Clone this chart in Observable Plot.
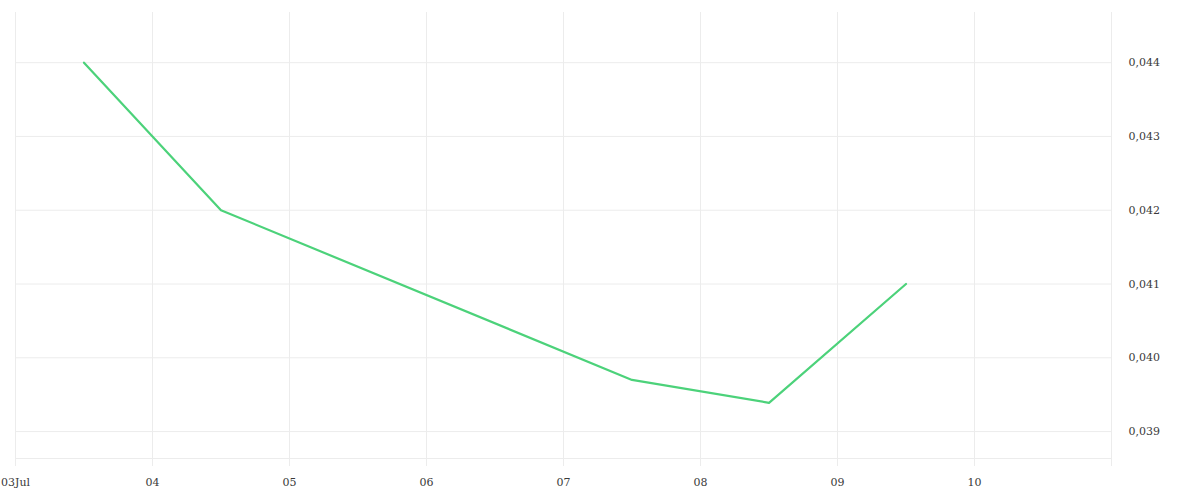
<!DOCTYPE html>
<html>
<head>
<meta charset="utf-8">
<script src="https://cdn.jsdelivr.net/npm/d3@7"></script>
<script src="https://cdn.jsdelivr.net/npm/@observablehq/plot@0.6"></script>
<style>
  html, body { margin: 0; padding: 0; background: #fff; }
  #chart svg { display: block; }
</style>
</head>
<body>
<div id="chart"></div>
<script>
const dates = ["2025-07-03T12:00:00Z", "2025-07-04T12:00:00Z", "2025-07-07T12:00:00Z", "2025-07-08T12:00:00Z", "2025-07-09T12:00:00Z"];
const values = [0.0440, 0.0420, 0.0397, 0.03939, 0.0410];
const xTicks = ["2025-07-03", "2025-07-04", "2025-07-05", "2025-07-06", "2025-07-07", "2025-07-08", "2025-07-09", "2025-07-10", "2025-07-11"];
const yTicks = [0.039, 0.040, 0.041, 0.042, 0.043, 0.044];
const xDomain = ["2025-07-03", "2025-07-11"];
const yDomain = [0.038635, 0.04468];

const data = dates.map((d, i) => ({date: new Date(d), value: values[i]}));
const xt = xTicks.map(d => new Date(d + "T00:00:00Z"));
const fmtY = v => d3.format(".3f")(v).replace(".", ",");
const fmtX = (d, i) => {
  const day = d3.utcFormat("%d")(d);
  if (i === 0) return day + "Jul";
  if (i === xt.length - 1) return "";
  return day;
};

const grid = "#ececec";
const chart = Plot.plot({
  width: 1200,
  height: 500,
  marginLeft: 15,
  marginRight: 89,
  marginTop: 12,
  marginBottom: 42,
  style: {fontFamily: "'DejaVu Serif', serif", fontSize: "11px", color: "#3a3a3a", background: "#fff"},
  x: {type: "utc", domain: xDomain.map(d => new Date(d + "T00:00:00Z"))},
  y: {domain: yDomain},
  marks: [
    Plot.gridX(xt, {stroke: grid, strokeOpacity: 1}),
    Plot.gridY(yTicks, {stroke: grid, strokeOpacity: 1}),
    Plot.ruleY([yDomain[0]], {stroke: grid}),
    Plot.axisX(xt, {tickSize: 8, stroke: grid, strokeOpacity: 1, text: null, label: null}),
    Plot.axisX(xt, {tickSize: 0, tickPadding: 20, tickFormat: fmtX, fill: "#3a3a3a", label: null}),
    Plot.axisY(yTicks, {anchor: "right", tickSize: 0, tickPadding: 17, tickFormat: fmtY, fill: "#3a3a3a", label: null}),
    Plot.line(data, {x: "date", y: "value", stroke: "#4cd27a", strokeWidth: 2.2})
  ]
});
document.getElementById("chart").append(chart);
</script>
</body>
</html>
